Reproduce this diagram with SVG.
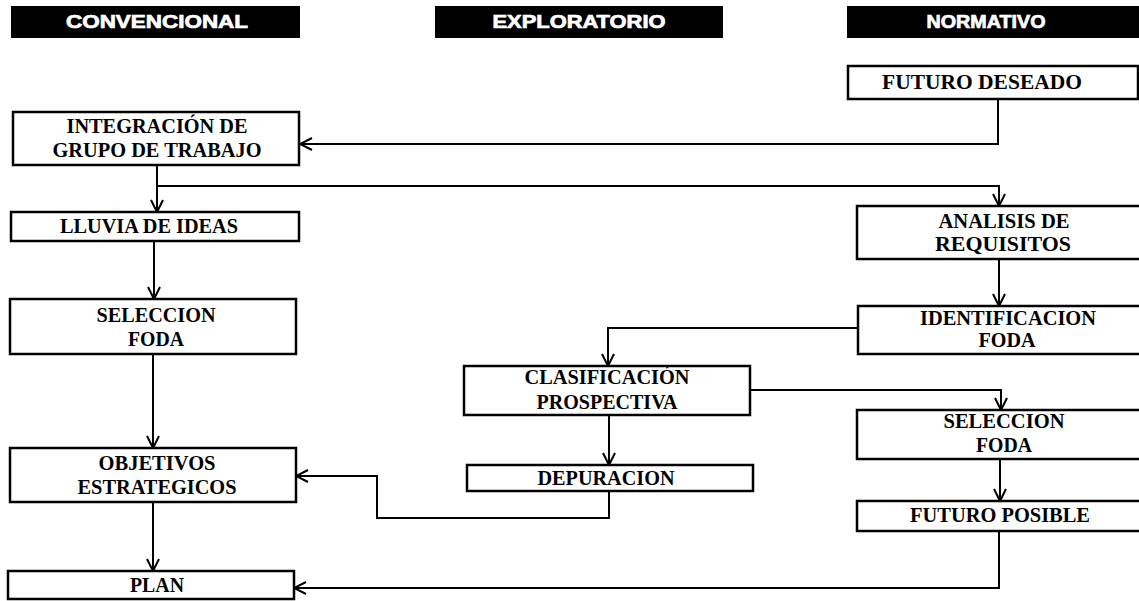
<svg xmlns="http://www.w3.org/2000/svg" width="1139" height="601" viewBox="0 0 1139 601">
<style>
.hdr{fill:#000}
.ht{font-family:"Liberation Sans",Arial,sans-serif;font-weight:bold;font-size:17.5px;fill:#fff;stroke:#fff;stroke-width:0.7;text-anchor:middle}
.box{fill:#fff;stroke:#000;stroke-width:2.5}
.t{font-family:"Liberation Serif","Times New Roman",serif;font-weight:bold;font-size:21px;fill:#000;text-anchor:middle}
.b{font-size:22px}
.r{font-size:21px}
.c{fill:none;stroke:#000;stroke-width:2}
</style>
<defs>
<marker id="ah" markerUnits="userSpaceOnUse" markerWidth="16" markerHeight="16" viewBox="-2 -2 16 16" refX="12" refY="6" orient="auto">
<path d="M0,0 L12,6 L0,12" fill="none" stroke="#000" stroke-width="2"/>
</marker>
</defs>
<g id="headers">
<rect class="hdr" x="11" y="6" width="289" height="32"/>
<text class="ht" x="157" y="28" textLength="182" lengthAdjust="spacingAndGlyphs">CONVENCIONAL</text>
<rect class="hdr" x="435" y="6" width="288" height="32"/>
<text class="ht" x="579" y="28" textLength="173" lengthAdjust="spacingAndGlyphs">EXPLORATORIO</text>
<rect class="hdr" x="847" y="6" width="292" height="32"/>
<text class="ht" x="986" y="28" textLength="119" lengthAdjust="spacingAndGlyphs">NORMATIVO</text>
</g>
<g id="connectors">
<path class="c" d="M998,99 V144 H300" marker-end="url(#ah)"/>
<path class="c" d="M157,165 V212" marker-end="url(#ah)"/>
<path class="c" d="M157,186 H999 V206" marker-end="url(#ah)"/>
<path class="c" d="M154,241 V299" marker-end="url(#ah)"/>
<path class="c" d="M153,354 V448" marker-end="url(#ah)"/>
<path class="c" d="M153,502 V571" marker-end="url(#ah)"/>
<path class="c" d="M999,259 V306" marker-end="url(#ah)"/>
<path class="c" d="M858,328 H608 V366" marker-end="url(#ah)"/>
<path class="c" d="M750,390 H1001 V410" marker-end="url(#ah)"/>
<path class="c" d="M609,415 V465" marker-end="url(#ah)"/>
<path class="c" d="M609,491 V518 H377 V476 H296" marker-end="url(#ah)"/>
<path class="c" d="M1000,459 V501" marker-end="url(#ah)"/>
<path class="c" d="M999,531 V588 H294" marker-end="url(#ah)"/>
</g>
<g id="futuro-deseado">
<rect class="box" x="848" y="66" width="290" height="33"/>
<text class="t r" x="982" y="89" textLength="200" lengthAdjust="spacingAndGlyphs">FUTURO DESEADO</text>
</g>
<g id="integracion">
<rect class="box" x="13" y="112" width="286" height="53"/>
<text class="t b" x="157" y="133" textLength="181" lengthAdjust="spacingAndGlyphs">INTEGRACIÓN DE</text>
<text class="t b" x="157" y="157" textLength="209" lengthAdjust="spacingAndGlyphs">GRUPO DE TRABAJO</text>
</g>
<g id="lluvia">
<rect class="box" x="11" y="212" width="288" height="29"/>
<text class="t" x="149" y="233" textLength="178" lengthAdjust="spacingAndGlyphs">LLUVIA DE IDEAS</text>
</g>
<g id="seleccion-foda-1">
<rect class="box" x="10" y="299" width="286" height="55"/>
<text class="t" x="156" y="322" textLength="119" lengthAdjust="spacingAndGlyphs">SELECCION</text>
<text class="t" x="156" y="346" textLength="56" lengthAdjust="spacingAndGlyphs">FODA</text>
</g>
<g id="objetivos">
<rect class="box" x="10" y="448" width="286" height="54"/>
<text class="t b" x="157" y="470" textLength="117" lengthAdjust="spacingAndGlyphs">OBJETIVOS</text>
<text class="t b" x="157" y="494" textLength="159" lengthAdjust="spacingAndGlyphs">ESTRATEGICOS</text>
</g>
<g id="plan">
<rect class="box" x="8" y="571" width="286" height="28"/>
<text class="t" x="157" y="592" textLength="54" lengthAdjust="spacingAndGlyphs">PLAN</text>
</g>
<g id="analisis">
<rect class="box" x="857" y="206" width="290" height="53"/>
<text class="t r" x="1004" y="228" textLength="131" lengthAdjust="spacingAndGlyphs">ANALISIS DE</text>
<text class="t r" x="1003" y="251" textLength="136" lengthAdjust="spacingAndGlyphs">REQUISITOS</text>
</g>
<g id="identificacion">
<rect class="box" x="858" y="306" width="290" height="48"/>
<text class="t r" x="1008" y="325" textLength="176" lengthAdjust="spacingAndGlyphs">IDENTIFICACION</text>
<text class="t r" x="1007" y="347" textLength="57" lengthAdjust="spacingAndGlyphs">FODA</text>
</g>
<g id="clasificacion">
<rect class="box" x="464" y="366" width="286" height="49"/>
<text class="t r" x="607" y="384" textLength="165" lengthAdjust="spacingAndGlyphs">CLASIFICACIÓN</text>
<text class="t r" x="607" y="409" textLength="141" lengthAdjust="spacingAndGlyphs">PROSPECTIVA</text>
</g>
<g id="depuracion">
<rect class="box" x="467" y="465" width="286" height="26"/>
<text class="t r" x="606" y="485" textLength="137" lengthAdjust="spacingAndGlyphs">DEPURACION</text>
</g>
<g id="seleccion-foda-2">
<rect class="box" x="857" y="410" width="290" height="49"/>
<text class="t r" x="1004" y="428" textLength="121" lengthAdjust="spacingAndGlyphs">SELECCION</text>
<text class="t r" x="1004" y="452" textLength="56" lengthAdjust="spacingAndGlyphs">FODA</text>
</g>
<g id="futuro-posible">
<rect class="box" x="857" y="501" width="290" height="30"/>
<text class="t r" x="1000" y="522" textLength="180" lengthAdjust="spacingAndGlyphs">FUTURO POSIBLE</text>
</g>
</svg>
